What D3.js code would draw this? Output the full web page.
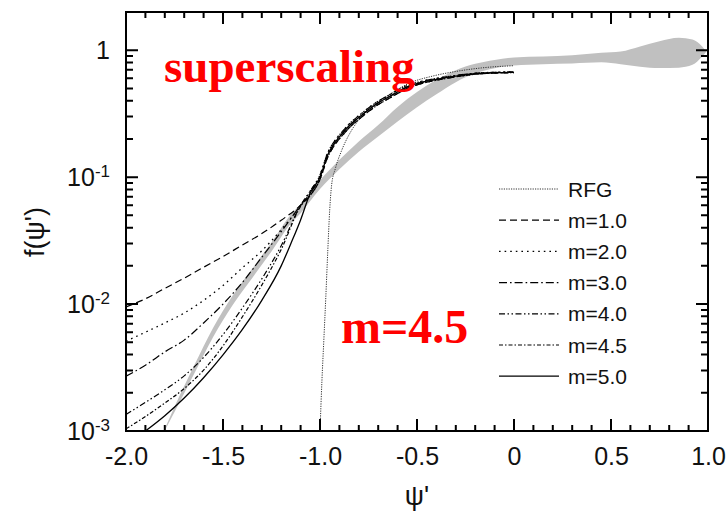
<!DOCTYPE html>
<html>
<head>
<meta charset="utf-8">
<script src="https://cdn.jsdelivr.net/npm/d3@7"></script>
<style>
  body { margin: 0; background: #fff; }
  svg { display: block; }
</style>
</head>
<body>
<svg id="chart" width="728" height="511"></svg>
<script>
// ---- values ----
var xTicks = [-2.0, -1.5, -1.0, -0.5, 0, 0.5, 1.0];
var xTickLabels = ['-2.0', '-1.5', '-1.0', '-0.5', '0', '0.5', '1.0'];
var yTicks = [1e-3, 1e-2, 1e-1, 1];
var yTickExp = ['-3', '-2', '-1', ''];

// grey band (experimental superscaling data)
var bandPsi = [-1.80, -1.75, -1.65, -1.55, -1.45, -1.35, -1.25, -1.15, -1.10, -1.00, -0.90, -0.80, -0.70, -0.60, -0.50,
  -0.40, -0.30, -0.20, -0.10, 0.00, 0.15, 0.30, 0.45, 0.55, 0.65, 0.75, 0.85, 0.92, 0.97, 0.99];
var bandHi = [0.00104, 0.00155, 0.00325, 0.00655, 0.0117, 0.0190, 0.0306, 0.0508, 0.0612, 0.0945, 0.137, 0.191, 0.257, 0.357, 0.468,
  0.585, 0.696, 0.781, 0.837, 0.878, 0.891, 0.913, 0.954, 0.977, 1.072, 1.175, 1.252, 1.216, 1.072, 0.98];
var bandLo = [0.00101, 0.00141, 0.00280, 0.00553, 0.00985, 0.0160, 0.0260, 0.0432, 0.0520, 0.0805, 0.1155, 0.1585, 0.209, 0.274, 0.355,
  0.449, 0.559, 0.657, 0.720, 0.759, 0.776, 0.786, 0.803, 0.776, 0.741, 0.724, 0.729, 0.767, 0.891, 0.97];

// RFG
var rfgPsi = [-1.0, -0.99, -0.98, -0.97, -0.96, -0.95, -0.94, -0.92, -0.89, -0.84, -0.79, -0.74, -0.65, -0.54, -0.42, -0.3, -0.15, 0];
var rfgF = [0.001, 0.0025, 0.0053, 0.0114, 0.026, 0.055, 0.087, 0.118, 0.16, 0.23, 0.295, 0.355, 0.44, 0.55, 0.625, 0.68, 0.73, 0.755];

// left branches of the m-curves
var psiLeft = [-2.0, -1.9, -1.8, -1.7, -1.6, -1.5, -1.4, -1.3, -1.2, -1.1];
var m10 = [0.0095, 0.0110, 0.0133, 0.0160, 0.0195, 0.0237, 0.0292, 0.0359, 0.0457, 0.060];
var m20 = [0.0051, 0.0060, 0.0071, 0.0085, 0.0107, 0.0140, 0.0193, 0.0263, 0.0385, 0.060];
var m30 = [0.0027, 0.0033, 0.0042, 0.0052, 0.0071, 0.0100, 0.0148, 0.0234, 0.0372, 0.060];
var m40 = [0.00135, 0.00168, 0.00211, 0.00272, 0.0038, 0.00575, 0.00933, 0.0158, 0.0288, 0.060];
var m45 = [0.00104, 0.0013, 0.00166, 0.00216, 0.00302, 0.00468, 0.00794, 0.0141, 0.0269, 0.0589];
var psiM50 = [-1.9, -1.8, -1.7, -1.6, -1.5, -1.4, -1.3, -1.2, -1.15, -1.1];
var m50 = [0.0010, 0.00132, 0.00182, 0.00263, 0.00398, 0.00631, 0.0107, 0.020, 0.030, 0.046];

// right branch: the m-curves lie in a narrow bundle (upper / middle / lower edge)
var psiTail = [-1.05, -1.0, -0.96, -0.92, -0.88, -0.84, -0.8, -0.75, -0.7, -0.65, -0.6, -0.55, -0.5, -0.45, -0.4, -0.3, -0.2, -0.1, 0];
var fTailHi = [0.078, 0.104, 0.156, 0.197, 0.233, 0.271, 0.305, 0.351, 0.397, 0.438, 0.484, 0.528, 0.557, 0.581, 0.600, 0.633, 0.659, 0.670, 0.675];
var fTailMid = [0.075, 0.100, 0.150, 0.190, 0.225, 0.262, 0.295, 0.340, 0.385, 0.425, 0.470, 0.515, 0.545, 0.570, 0.590, 0.625, 0.653, 0.665, 0.670];
var fTailLo = [0.072, 0.096, 0.144, 0.183, 0.217, 0.253, 0.285, 0.329, 0.373, 0.412, 0.456, 0.502, 0.533, 0.559, 0.580, 0.617, 0.647, 0.660, 0.665];

var legendNames = ['RFG', 'm=1.0', 'm=2.0', 'm=3.0', 'm=4.0', 'm=4.5', 'm=5.0'];

// ---- build ----
function pts(ps, fs) { return ps.map(function (p, i) { return { p: p, f: fs[i] }; }); }
function withTail(ps, fs, tail) { return pts(ps, fs).concat(pts(psiTail, tail)); }

var series = [
  { pts: pts(rfgPsi, rfgF), dash: '1.2,1.2', w: 1, col: '#333' },
  { pts: withTail(psiLeft, m10, fTailLo), dash: '7,4', w: 1.2, col: '#000' },
  { pts: withTail(psiLeft, m20, fTailHi), dash: '1.6,4', w: 1.3, col: '#000' },
  { pts: withTail(psiLeft, m30, fTailMid), dash: '8,3,1.6,3', w: 1.2, col: '#000' },
  { pts: withTail(psiLeft, m40, fTailHi), dash: '6,2.5,1.5,2.5,1.5,2.5', w: 1.2, col: '#000' },
  { pts: withTail(psiLeft, m45, fTailLo), dash: '4,2,1.5,2', w: 1.2, col: '#000' },
  { pts: withTail(psiM50, m50, fTailMid), dash: null, w: 1.3, col: '#000' }
];

var L = 126, R = 708, T = 12, B = 431;
var svg = d3.select('#chart');
var x = d3.scaleLinear().domain([-2, 1]).range([L, R]);
var y = d3.scaleLog().domain([1e-3, 2]).range([B, T]);

svg.append('defs').append('clipPath').attr('id', 'plotclip')
  .append('rect').attr('x', L).attr('y', T).attr('width', R - L).attr('height', B - T);
var plot = svg.append('g').attr('clip-path', 'url(#plotclip)');

var band = bandPsi.map(function (p, i) { return { p: p, lo: bandLo[i], hi: bandHi[i] }; });
plot.append('path').datum(band)
  .attr('d', d3.area().x(function (d) { return x(d.p); }).y0(function (d) { return y(d.lo); })
    .y1(function (d) { return y(d.hi); }).curve(d3.curveMonotoneX))
  .attr('fill', '#c0c0c0');

var line = d3.line().x(function (d) { return x(d.p); }).y(function (d) { return y(d.f); }).curve(d3.curveMonotoneX);
series.forEach(function (s) {
  plot.append('path').datum(s.pts).attr('d', line).attr('fill', 'none')
    .attr('stroke', s.col).attr('stroke-width', s.w).attr('stroke-dasharray', s.dash);
});

// tick labels through the axis generators
function styleAxis(g) {
  g.select('.domain').remove();
  g.selectAll('line').remove();
  g.selectAll('text').attr('font-family', 'Liberation Sans, Arial, sans-serif').attr('font-size', 25).attr('fill', '#111');
}
svg.append('g').attr('transform', 'translate(0,' + B + ')')
  .call(d3.axisBottom(x).tickValues(xTicks).tickSize(0).tickPadding(16).tickFormat(function (d, i) { return xTickLabels[i]; }))
  .call(styleAxis);
var yl = svg.append('g').attr('transform', 'translate(' + L + ',0)')
  .call(d3.axisLeft(y).tickValues(yTicks).tickSize(0).tickPadding(16).tickFormat(function () { return ''; }))
  .call(styleAxis);
yl.selectAll('.tick text').each(function (d, i) {
  var t = d3.select(this);
  if (yTickExp[i]) {
    t.text('10');
    t.append('tspan').attr('dy', '-0.5em').attr('font-size', 17).text(yTickExp[i]);
  } else {
    t.text('1');
  }
});

// ---- frame and inward ticks drawn as one path ----
var xMinor = d3.range(-20, 11).map(function (k) { return k / 10; })
  .filter(function (v) { return xTicks.every(function (t) { return Math.abs(t - v) > 1e-6; }); });
var yMinor = [];
[-3, -2, -1, 0].forEach(function (e) { for (var k = 2; k <= 9; k++) { var v = k * Math.pow(10, e); if (v <= 2.001) yMinor.push(v); } });

var fp = d3.path();
fp.moveTo(L, T); fp.lineTo(R, T); fp.lineTo(R, B); fp.lineTo(L, B); fp.closePath();
function xTickSeg(v, len) {
  fp.moveTo(x(v), B); fp.lineTo(x(v), B - len);
  fp.moveTo(x(v), T); fp.lineTo(x(v), T + len);
}
function yTickSeg(v, len) {
  fp.moveTo(L, y(v)); fp.lineTo(L + len, y(v));
  fp.moveTo(R, y(v)); fp.lineTo(R - len, y(v));
}
xTicks.forEach(function (v) { xTickSeg(v, 12); });
xMinor.forEach(function (v) { xTickSeg(v, 6); });
yTicks.forEach(function (v) { yTickSeg(v, 12); });
yMinor.forEach(function (v) { yTickSeg(v, 7); });
svg.append('path').attr('d', fp.toString()).attr('fill', 'none').attr('stroke', '#000').attr('stroke-width', 2);

// axis titles
svg.append('text').attr('transform', 'translate(44,232) rotate(-90)').attr('text-anchor', 'middle')
  .attr('font-family', 'Liberation Sans, Arial, sans-serif').attr('font-size', 27).attr('fill', '#111').text("f(\u03c8')");
svg.append('text').attr('x', (L + R) / 2).attr('y', 505).attr('text-anchor', 'middle')
  .attr('font-family', 'Liberation Sans, Arial, sans-serif').attr('font-size', 27).attr('fill', '#111').text("\u03c8'");

// legend
var lg = svg.append('g');
legendNames.forEach(function (name, i) {
  var yy = 189 + i * 31.2, s = series[i];
  lg.append('line').attr('x1', 499).attr('x2', 559).attr('y1', yy).attr('y2', yy)
    .attr('stroke', s.col).attr('stroke-width', s.w).attr('stroke-dasharray', s.dash);
  lg.append('text').attr('x', 568).attr('y', yy).attr('dy', '0.36em')
    .attr('font-family', 'Liberation Sans, Arial, sans-serif').attr('font-size', 21).attr('fill', '#111').text(name);
});

// annotations
svg.append('text').attr('x', 164).attr('y', 82).attr('font-family', 'Liberation Serif, Times New Roman, serif')
  .attr('font-weight', 'bold').attr('font-size', 47).attr('fill', '#ff0000').text('superscaling');
svg.append('text').attr('x', 341).attr('y', 343).attr('font-family', 'Liberation Serif, Times New Roman, serif')
  .attr('font-weight', 'bold').attr('font-size', 48).attr('fill', '#ff0000').text('m=4.5');
</script>
</body>
</html>
